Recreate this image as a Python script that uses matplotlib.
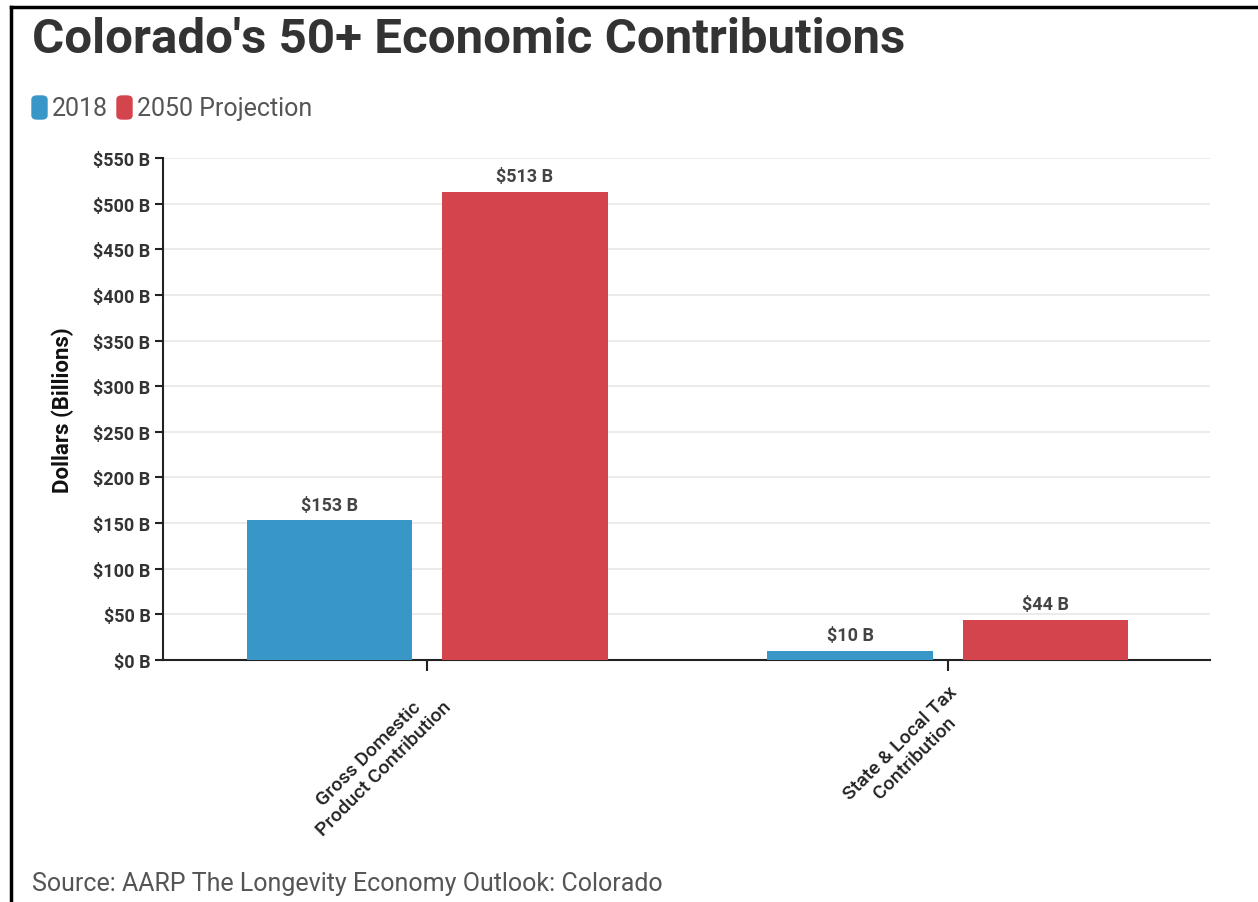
import matplotlib.pyplot as plt
from matplotlib.lines import Line2D
from matplotlib.patches import FancyBboxPatch
import numpy as np

plt.rcParams['font.family'] = ['Roboto', 'DejaVu Sans']

categories = ["Gross Domestic\nProduct Contribution", "State & Local Tax\nContribution"]
series_names = ["2018", "2050 Projection"]
values_2018 = [153, 10]
values_2050 = [513, 44]
yticks = [0, 50, 100, 150, 200, 250, 300, 350, 400, 450, 500, 550]

blue = "#3997c8"
red = "#d3444c"

fig = plt.figure(figsize=(12.58, 9.03), dpi=100)
ax = fig.add_axes([163 / 1258, 1 - 661 / 903, (1210 - 163) / 1258, (661 - 159) / 903])

x = np.arange(len(categories))
w = 0.317
off = 0.188
b1 = ax.bar(x - off, values_2018, w, color=blue, zorder=3)
b2 = ax.bar(x + off, values_2050, w, color=red, zorder=3)

for bars, vals in [(b1, values_2018), (b2, values_2050)]:
    for r, v in zip(bars, vals):
        ax.text(r.get_x() + r.get_width() / 2, v + 7, f"${v} B", ha="center", va="bottom",
                fontsize=13, fontweight="bold", color="#444444")

ax.set_xlim(-0.507, 1.503)
ax.set_ylim(0, 550)
ax.set_yticks(yticks)
ax.set_yticklabels([f"${t} B" for t in yticks], fontsize=13, fontweight="bold", color="#333333")
ax.grid(axis="y", color="#e8e8e8", linewidth=1.2, zorder=0)
ax.set_xticks(x)
ax.set_xticklabels(categories, rotation=45, ha="right", rotation_mode="anchor",
                   fontsize=14, fontweight="medium", color="#222222", multialignment="center")
ax.tick_params(axis="x", length=8, width=1.5, color="#222222", pad=8)
ax.tick_params(axis="y", length=6, width=1.5, color="#222222", pad=3)
for s in ["top", "right"]:
    ax.spines[s].set_visible(False)
ax.spines["left"].set_linewidth(1.5)
ax.spines["bottom"].set_linewidth(1.5)
ax.spines["left"].set_color("#222222")
ax.spines["bottom"].set_color("#222222")
ax.set_ylabel("Dollars (Billions)", fontsize=16, fontweight="bold", color="#111111", labelpad=14)

fig.text(32 / 1258, 1 - 40 / 903, "Colorado's 50+ Economic Contributions", fontsize=35.5,
         fontweight="bold", color="#333333", va="center", ha="left")

# legend
for name, col, lx in [(series_names[0], blue, 32), (series_names[1], red, 117)]:
    fig.patches.append(FancyBboxPatch((lx / 1258, 1 - 120 / 903), 15 / 1258, 23 / 903,
                                      boxstyle="round,pad=0,rounding_size=0.004",
                                      transform=fig.transFigure, color=col))
    fig.text((lx + 20) / 1258, 1 - 109 / 903, name, fontsize=18, color="#555555",
             va="center", ha="left")

fig.text(32 / 1258, 1 - 884 / 903, "Source: AARP The Longevity Economy Outlook: Colorado",
         fontsize=18, color="#555555", va="center", ha="left")

# screenshot frame
fig.add_artist(Line2D([11 / 1258, 11 / 1258], [0, 1 - 8 / 903], transform=fig.transFigure,
                      color="black", linewidth=2.5))
fig.add_artist(Line2D([11 / 1258, 1], [1 - 8 / 903, 1 - 8 / 903], transform=fig.transFigure,
                      color="black", linewidth=2.5))

fig.savefig("out.png", dpi=100)
